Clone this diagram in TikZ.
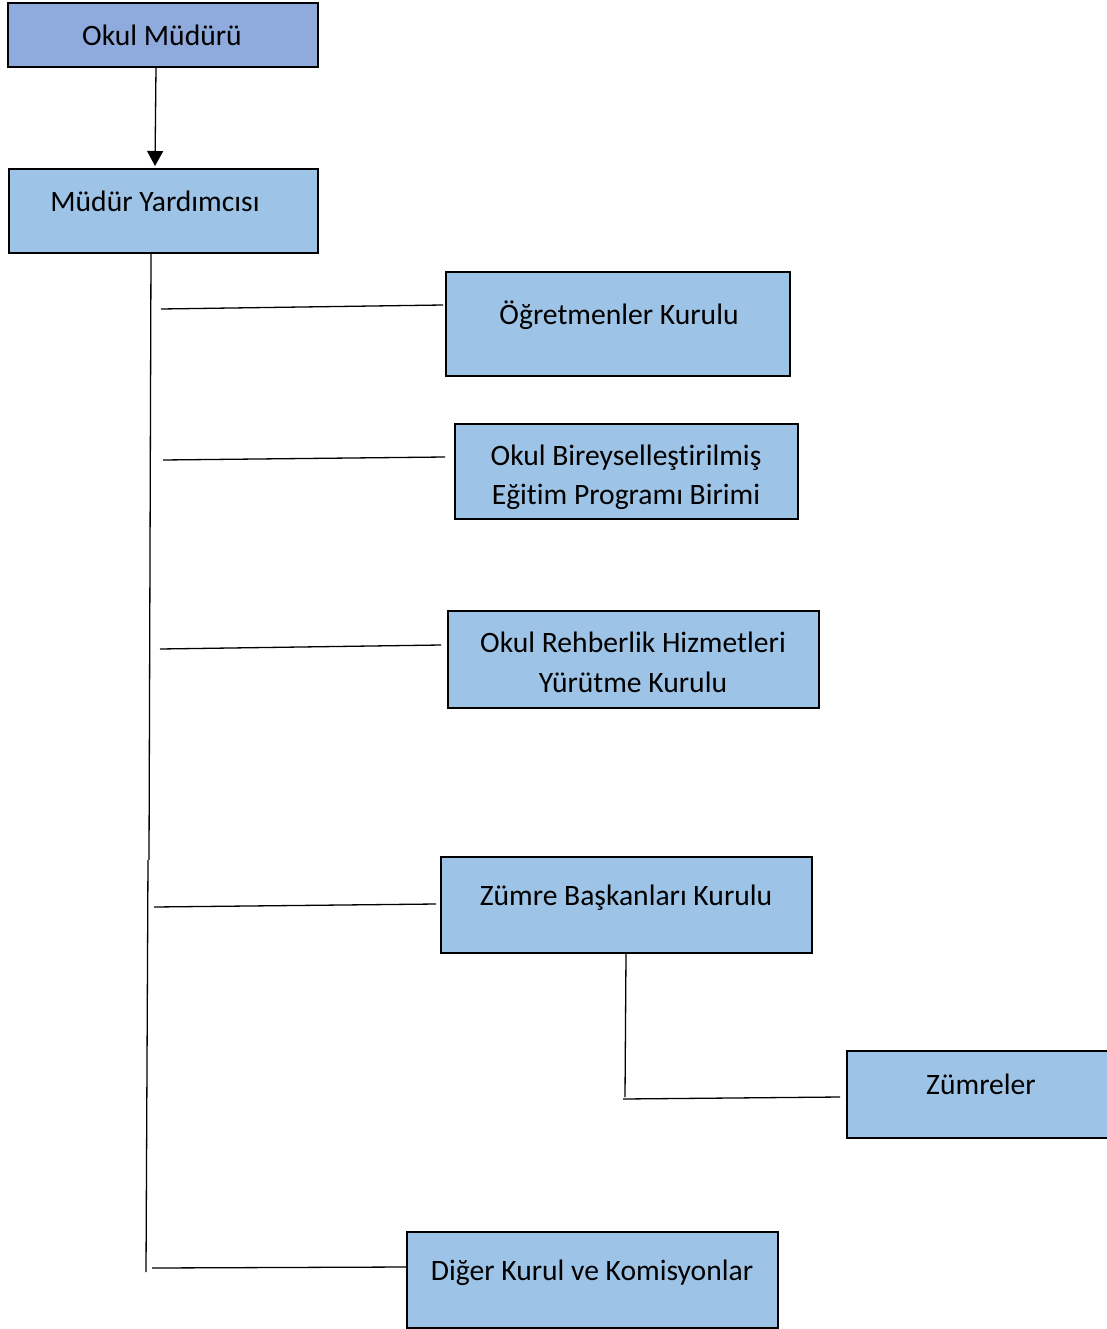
\documentclass[tikz,border=0pt]{standalone}
\usepackage{fontspec}
\setmainfont[Ligatures={NoCommon}]{Carlito}
\usetikzlibrary{arrows.meta}
\definecolor{topfill}{HTML}{8FAADC}
\definecolor{boxfill}{HTML}{9DC3E6}
\begin{document}
\begin{tikzpicture}[x=1pt,y=-1pt,
  box/.style={draw=black,line width=2.4pt,fill=boxfill,inner sep=0pt},
  txt/.style={anchor=base,inner sep=0pt,font=\fontsize{29.6}{35}\selectfont},
  conn/.style={draw=black,line width=1.3pt}]
\useasboundingbox (0,0) rectangle (1107,1329);
\clip (0,0) rectangle (1107,1329);
% boxes
\node[box,fill=topfill,minimum width=310pt,minimum height=64pt] (om) at (163,35) {};
\node[box,minimum width=309pt,minimum height=84pt] (my) at (163.5,211) {};
\node[box,minimum width=344pt,minimum height=104pt] (ok) at (618,324) {};
\node[box,minimum width=343pt,minimum height=95pt] (be) at (626.5,471.5) {};
\node[box,minimum width=371pt,minimum height=97pt] (rh) at (633.5,659.5) {};
\node[box,minimum width=371pt,minimum height=96pt] (zb) at (626.5,905) {};
\node[box,minimum width=270pt,minimum height=87pt] (zm) at (982,1094.5) {};
\node[box,minimum width=371pt,minimum height=96pt] (dk) at (592.5,1280) {};
% texts
\node[txt] (tom) at (162,45.5) {Okul Müdürü};
\node[txt] (tmy) at (155,211.5) {Müdür Yardımcısı};
\node[txt] (tok) at (619,324.5) {Öğretmenler Kurulu};
\node[txt] (tbe1) at (626,465.5) {Okul Bireyselleştirilmiş};
\node[txt] (tbe2) at (626,504.5) {Eğitim Programı Birimi};
\node[txt] (trh1) at (633,652.5) {Okul Rehberlik Hizmetleri};
\node[txt] (trh2) at (633,692.5) {Yürütme Kurulu};
\node[txt] (tzb) at (626,905.5) {Zümre Başkanları Kurulu};
\node[txt] (tzm) at (981,1094.5) {Zümreler};
\node[txt] (tdk) at (592,1280.5) {Diğer Kurul ve Komisyonlar};
% coordinates
\coordinate (a1) at (156,67);
\coordinate (a2) at (155,166);
\coordinate (v1) at (151,253);
\coordinate (v2) at (149,860);
\coordinate (v3) at (148,860);
\coordinate (v4) at (146,1272);
\coordinate (h1a) at (161,309); \coordinate (h1b) at (443,305);
\coordinate (h2a) at (163,460); \coordinate (h2b) at (445,457);
\coordinate (h3a) at (160,649); \coordinate (h3b) at (441,645);
\coordinate (h4a) at (154,907); \coordinate (h4b) at (436,904);
\coordinate (h5a) at (152,1268); \coordinate (h5b) at (406,1267);
\coordinate (z1) at (626,954); \coordinate (z2) at (625,1097);
\coordinate (z3) at (623,1099); \coordinate (z4) at (840,1097);
% connectors
\draw[conn,-{Triangle[length=15pt,width=16pt]}] (a1) -- (a2);
\draw[conn] (v1) -- (v2);
\draw[conn] (v3) -- (v4);
\draw[conn] (h1a) -- (h1b);
\draw[conn] (h2a) -- (h2b);
\draw[conn] (h3a) -- (h3b);
\draw[conn] (h4a) -- (h4b);
\draw[conn] (h5a) -- (h5b);
\draw[conn] (z1) -- (z2);
\draw[conn] (z3) -- (z4);
\end{tikzpicture}
\end{document}
